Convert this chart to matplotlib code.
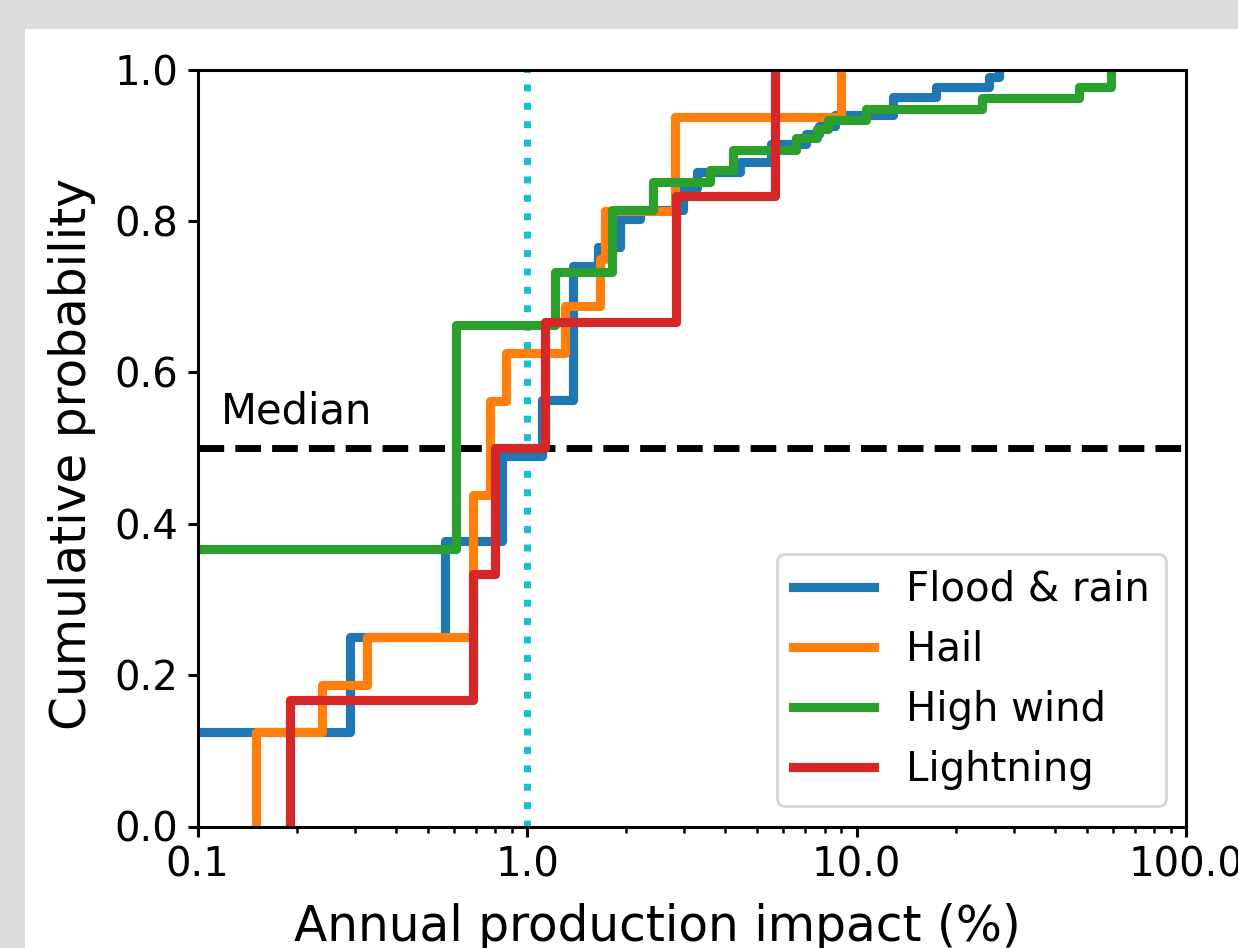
import matplotlib.pyplot as plt
from matplotlib.patches import Rectangle
from matplotlib.ticker import FixedLocator, FixedFormatter

# step points (x where the ECDF jumps, y after the jump)
flood_x = [0.05, 0.291, 0.565, 0.838, 1.108, 1.378, 1.645, 1.913, 2.20, 2.97,
           3.27, 4.42, 5.52, 7.03, 7.71, 8.6, 12.9, 17.4, 25.3, 27.1]
flood_y = [0.125, 0.25, 0.377, 0.489, 0.563, 0.741, 0.766, 0.803, 0.815, 0.843,
           0.865, 0.878, 0.902, 0.915, 0.926, 0.940, 0.964, 0.977, 0.990, 1.0]

hail_x = [0.1507, 0.1507, 0.239, 0.328, 0.684, 0.773, 0.864, 1.304, 1.664, 1.72, 2.81, 9.0]
hail_y = [0.0, 0.125, 0.1875, 0.25, 0.4375, 0.5625, 0.625, 0.6875, 0.75, 0.8125, 0.9375, 1.0]

wind_x = [0.05, 0.608, 1.216, 1.806, 2.41, 3.58, 4.22, 6.57, 7.6, 8.2, 10.7, 24.1, 47.3, 59.2]
wind_y = [0.366, 0.662, 0.732, 0.814, 0.851, 0.867, 0.893, 0.909, 0.921, 0.933,
          0.948, 0.962, 0.977, 1.0]

light_x = [0.1905, 0.1905, 0.688, 0.80, 1.134, 2.84, 5.64]
light_y = [0.0, 1/6, 2/6, 3/6, 4/6, 5/6, 1.0]

labels = ["Flood & rain", "Hail", "High wind", "Lightning"]
xticks = [0.1, 1, 10, 100]
xticklabels = ["0.1", "1.0", "10.0", "100.0"]


def main():
    plt.rcParams["axes.linewidth"] = 1.1
    fig = plt.figure(figsize=(6.19, 4.74), dpi=200, facecolor="#dcdcdc")
    # white figure area (screenshot is cropped on the right/bottom)
    fig.add_artist(Rectangle((25/1238, 0), 1, 1 - 29/948, transform=fig.transFigure,
                             facecolor="white", edgecolor="none", zorder=-10))
    ax = fig.add_axes([197.5/1238, 1 - 826.5/948, 988.5/1238, 757/948])

    ax.axhline(0.5, color="black", ls="--", lw=2.5, zorder=1)
    ax.axvline(1.0, color="tab:cyan", ls=":", lw=2.5, zorder=1)

    lw = 3.3
    ax.plot(flood_x, flood_y, drawstyle="steps-post", color="tab:blue", lw=lw, label=labels[0])
    ax.plot(hail_x, hail_y, drawstyle="steps-post", color="tab:orange", lw=lw, label=labels[1])
    ax.plot(wind_x, wind_y, drawstyle="steps-post", color="tab:green", lw=lw, label=labels[2])
    ax.plot(light_x, light_y, drawstyle="steps-post", color="tab:red", lw=lw, label=labels[3])

    ax.text(0.118, 0.532, "Median", fontsize=15, va="baseline", ha="left")

    ax.set_xscale("log")
    ax.set_xlim(0.1, 100)
    ax.set_ylim(0, 1)
    ax.xaxis.set_major_locator(FixedLocator(xticks))
    ax.xaxis.set_major_formatter(FixedFormatter(xticklabels))
    ax.tick_params(labelsize=14.5, width=1.1)
    ax.tick_params(which="minor", width=0.9)

    ax.set_xlabel("Annual production impact (%)", fontsize=17.5)
    ax.set_ylabel("Cumulative probability", fontsize=17.5)
    ax.xaxis.set_label_coords(0.465, -0.101)
    ax.yaxis.set_label_coords(-0.103, 0.492)

    ax.legend(loc="lower right", fontsize=14.5)

    fig.savefig("out.png", dpi=200, facecolor=fig.get_facecolor())


if __name__ == "__main__":
    main()
